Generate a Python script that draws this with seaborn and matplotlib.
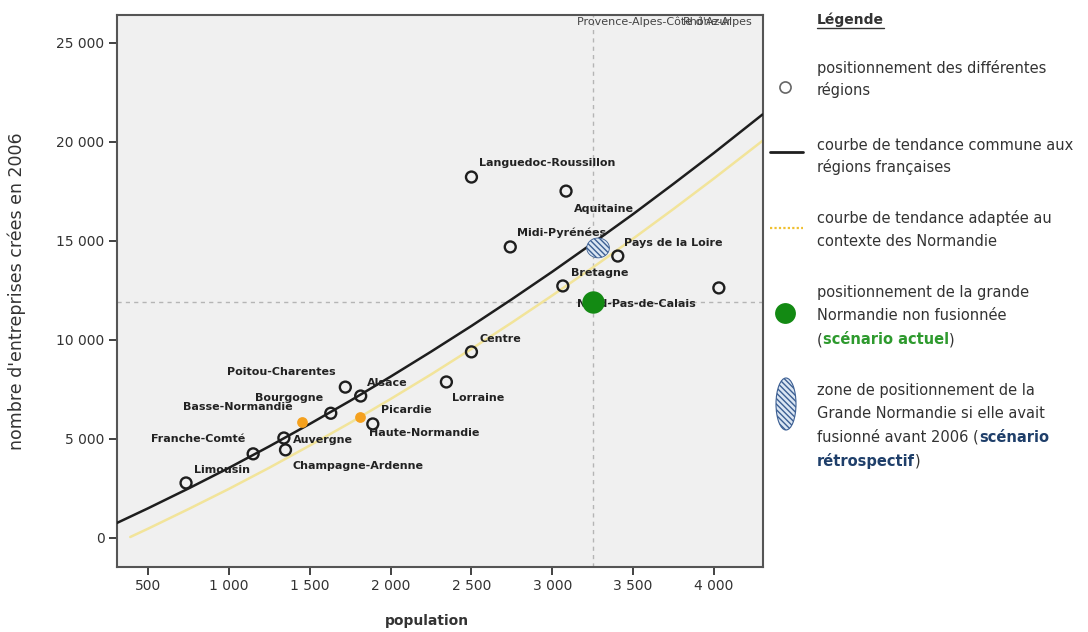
"""
Scatter of enterprise creations (2006) vs population for French regions,
with the two trend curves and the Grande Normandie scenarios.
"""
from __future__ import annotations

import matplotlib
matplotlib.use("Agg")
import matplotlib.pyplot as plt
from matplotlib.patches import Ellipse
from matplotlib.ticker import FuncFormatter
import seaborn as sns

# --- data (population in thousands) ---
regions = [
    "Limousin", "Franche-Comté", "Auvergne", "Champagne-Ardenne", "Bourgogne",
    "Poitou-Charentes", "Alsace", "Picardie", "Lorraine", "Centre",
    "Languedoc-Roussillon", "Midi-Pyrénées", "Bretagne", "Aquitaine",
    "Pays de la Loire", "Nord-Pas-de-Calais",
]
region_pop = [735, 1150, 1340, 1350, 1630, 1720, 1815, 1890, 2345, 2500,
              2500, 2740, 3065, 3085, 3405, 4030]
region_ent = [2780, 4250, 5050, 4450, 6300, 7620, 7170, 5760, 7880, 9400,
              18230, 14700, 12730, 17520, 14240, 12630]

normandie = ["Basse-Normandie", "Haute-Normandie"]
normandie_pop = [1450, 1810]
normandie_ent = [5850, 6100]

grande_normandie_pop = [3250]
grande_normandie_ent = [11920]

zone_pop = 3283
zone_ent = 14650

# trend curves, sampled along the drawn lines
trend_x = [300, 500, 750, 1000, 1250, 1500, 1750, 2000, 2250, 2500, 2750,
           3000, 3250, 3500, 3750, 4000, 4300]
trend_common = [730, 1500, 2500, 3540, 4630, 5760, 6930, 8150, 9410, 10710,
                12060, 13450, 14890, 16360, 17890, 19450, 21390]
trend_norm_x = [390, 500, 750, 1000, 1250, 1500, 1750, 2000, 2250, 2500, 2750,
                3000, 3250, 3500, 3750, 4000, 4330]
trend_norm = [50, 470, 1460, 2480, 3550, 4670, 5820, 7020, 8260, 9550, 10880,
              12250, 13660, 15120, 16620, 18160, 20250]

x_ticks = [500, 1000, 1500, 2000, 2500, 3000, 3500, 4000]
y_ticks = [0, 5000, 10000, 15000, 20000, 25000]

# label offsets in pixels (dx, dy, ha)
label_offsets = {
    "Limousin": (8, 13, "left"),
    "Franche-Comté": (-8, 15, "right"),
    "Auvergne": (9, -2, "left"),
    "Champagne-Ardenne": (7, -16, "left"),
    "Bourgogne": (-8, 15, "right"),
    "Poitou-Charentes": (-10, 15, "right"),
    "Alsace": (6, 13, "left"),
    "Picardie": (8, 14, "left"),
    "Lorraine": (6, -16, "left"),
    "Centre": (8, 13, "left"),
    "Languedoc-Roussillon": (8, 14, "left"),
    "Midi-Pyrénées": (7, 14, "left"),
    "Bretagne": (8, 13, "left"),
    "Aquitaine": (8, -18, "left"),
    "Pays de la Loire": (6, 13, "left"),
    "Nord-Pas-de-Calais": (-142, -16, "left"),
    "Basse-Normandie": (-9, 15, "right"),
    "Haute-Normandie": (9, -16, "left"),
}

TEXT = "#333333"
GREEN = "#138a13"
ORANGE = "#f5a11e"
BLUE = "#1f3f6a"


def fmt_thousands(v, _pos=None) -> str:
    return f"{v:,.0f}".replace(",", " ")


def draw_chart(ax) -> None:
    ax.set_facecolor("#f0f0f0")
    ax.axvline(grande_normandie_pop[0], color="#b5b5b5", lw=1, ls=(0, (3, 3)), zorder=1)
    ax.axhline(grande_normandie_ent[0], color="#b5b5b5", lw=1, ls=(0, (3, 3)), zorder=1)

    sns.lineplot(x=trend_norm_x, y=trend_norm, color="#f2e49a", lw=1.8, ax=ax, zorder=2)
    sns.lineplot(x=trend_x, y=trend_common, color="#1e1e1e", lw=1.8, ax=ax, zorder=3)

    sns.scatterplot(x=region_pop, y=region_ent, s=62, facecolor="none",
                    edgecolor="#1e1e1e", linewidth=1.7, ax=ax, zorder=4)
    sns.scatterplot(x=normandie_pop, y=normandie_ent, s=60, color=ORANGE,
                    linewidth=0, ax=ax, zorder=4)

    names = regions + normandie
    xs = region_pop + normandie_pop
    ys = region_ent + normandie_ent
    for name, x, y in zip(names, xs, ys):
        dx, dy, ha = label_offsets[name]
        ax.annotate(name, (x, y), xytext=(dx, dy), textcoords="offset pixels",
                    ha=ha, va="center", fontsize=8, fontweight="bold",
                    color="#222222", zorder=5)

    # these two sit outside the plotted range, only the labels show
    ax.text(3153, 26060, "Provence-Alpes-Côte d'Azur", fontsize=8, color="#444",
            va="center", clip_on=True)
    ax.text(3809, 26060, "Rhône-Alpes", fontsize=8, color="#444",
            va="center", clip_on=True)

    zone = Ellipse((zone_pop, zone_ent), 140, 1000, facecolor="#dbe6f3",
                   edgecolor="#3c5f93", hatch="\\\\\\\\\\\\", lw=0.6, zorder=6)
    ax.add_patch(zone)
    sns.scatterplot(x=grande_normandie_pop, y=grande_normandie_ent, s=260,
                    color=GREEN, linewidth=0, ax=ax, zorder=7)

    ax.set_xlim(308, 4303)
    ax.set_ylim(-1465, 26414)
    ax.set_xticks(x_ticks)
    ax.set_yticks(y_ticks)
    ax.xaxis.set_major_formatter(FuncFormatter(fmt_thousands))
    ax.yaxis.set_major_formatter(FuncFormatter(fmt_thousands))
    ax.tick_params(direction="out", length=6, width=1.3, color="#333",
                   labelsize=10, labelcolor=TEXT, pad=3,
                   bottom=True, left=True, top=False, right=False)
    for sp in ax.spines.values():
        sp.set_visible(True)
        sp.set_color("#555555")
        sp.set_linewidth(1.5)

    ax.set_xlabel("population", fontsize=10, fontweight="bold", color=TEXT)
    ax.set_ylabel("nombre d'entreprises crées en 2006", fontsize=12.5, color=TEXT)
    ax.xaxis.set_label_coords(0.48, -0.085)
    ax.yaxis.set_label_coords(-0.141, 0.5)


def chain(lax, prev, s, **kw):
    return lax.annotate(s, xy=(1, 0), xycoords=prev, va="bottom", ha="left",
                        fontsize=10.5, **kw)


def draw_legend(fig) -> None:
    lax = fig.add_axes([763 / 1088, 0, 325 / 1088, 1])
    lax.set_xlim(763, 1088)
    lax.set_ylim(632, 0)
    lax.axis("off")

    fs = 10.5
    x0 = 817
    title = lax.text(x0, 20, "Légende", fontsize=10, fontweight="bold", color=TEXT,
                     va="center")
    fig.canvas.draw()
    bb = title.get_window_extent().transformed(lax.transData.inverted())
    lax.plot([bb.x0, bb.x1], [28, 28], color=TEXT, lw=1)

    lax.plot([785], [87], "o", ms=8, mfc="none", mec="#666", mew=1.2)
    lax.plot([770, 803], [152, 152], color="#1e1e1e", lw=2)
    lax.plot([770, 803], [228, 228], color="#f0c030", lw=1.6, ls=(0, (1, 1)))
    lax.plot([785], [313], "o", ms=15, color=GREEN, mew=0)
    lax.add_patch(Ellipse((786, 404), 20, 52, facecolor="#dbe6f3", edgecolor="#3c5f93",
                          hatch="\\\\\\\\\\\\", lw=0.8))

    lines = [
        (68, "positionnement des différentes"),
        (90, "régions"),
        (145, "courbe de tendance commune aux"),
        (167, "régions françaises"),
        (218, "courbe de tendance adaptée au"),
        (242, "contexte des Normandie"),
        (293, "positionnement de la grande"),
        (316, "Normandie non fusionnée"),
        (390, "zone de positionnement de la"),
        (413, "Grande Normandie si elle avait"),
    ]
    for y, s in lines:
        lax.text(x0, y, s, fontsize=fs, color=TEXT, va="center")

    t = lax.text(x0, 340, "(", fontsize=fs, color=TEXT, va="center")
    t = chain(lax, t, "scénario actuel", color="#2e9a2e", fontweight="bold")
    chain(lax, t, ")", color=TEXT)

    t = lax.text(x0, 437, "fusionné avant 2006 (", fontsize=fs, color=TEXT, va="center")
    chain(lax, t, "scénario", color=BLUE, fontweight="bold")
    t = lax.text(x0, 461, "rétrospectif", fontsize=fs, color=BLUE, fontweight="bold",
                 va="center")
    chain(lax, t, ")", color=TEXT)


def main() -> None:
    sns.set_theme(style="white")
    plt.rcParams["font.family"] = ["DejaVu Sans"]
    fig = plt.figure(figsize=(10.88, 6.32), dpi=100)
    ax = fig.add_axes([117 / 1088, 65 / 632, 646 / 1088, 552 / 632])
    draw_chart(ax)
    draw_legend(fig)
    fig.savefig("out.png", dpi=100, facecolor="white")


if __name__ == "__main__":
    main()
